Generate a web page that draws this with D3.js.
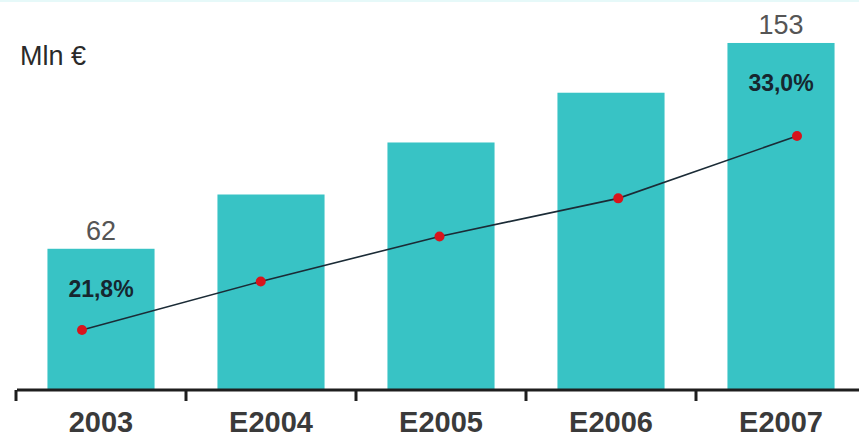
<!DOCTYPE html>
<html>
<head>
<meta charset="utf-8">
<script src="https://cdn.jsdelivr.net/npm/d3@7"></script>
<style>
  html, body { margin: 0; padding: 0; background: #ffffff; }
  svg { display: block; }
</style>
</head>
<body>
<svg id="chart" width="859" height="439"></svg>
<script>
const categories = ["2003", "E2004", "E2005", "E2006", "E2007"];
const revenue = [62, 86, 109, 131, 153];          // Mln €
const share = [21.8, 24.6, 27.2, 29.4, 33.0];     // %
const revenueLabels = ["62", "", "", "", "153"];
const shareLabels = ["21,8%", "", "", "", "33,0%"];
const unitLabel = "Mln €";

const svg = d3.select("#chart");
const W = 859, H = 439;

// faint top strip
svg.append("rect").attr("x", 0).attr("y", 0).attr("width", W).attr("height", 2).attr("fill", "#e6f9f9");

const x = d3.scaleBand().domain(categories).range([16, 866]).paddingInner(0.37).paddingOuter(0.185);
const y = d3.scaleLinear().domain([0, 172]).range([389, 0]);
const xLine = d3.scalePoint().domain(categories).range([82, 797]).padding(0);
const yLine = d3.scaleLinear().domain([21.8, 33.0]).range([330, 136]);

// bars
svg.append("g").selectAll("rect").data(categories).join("rect")
  .attr("x", d => x(d))
  .attr("y", (d, i) => y(revenue[i]))
  .attr("width", x.bandwidth())
  .attr("height", (d, i) => y(0) - y(revenue[i]))
  .attr("fill", "#38c3c5");

// axis
const axisG = svg.append("g").attr("transform", "translate(0,390)");
axisG.append("line").attr("x1", 17).attr("x2", W).attr("y1", 0).attr("y2", 0)
  .attr("stroke", "#1e1e1e").attr("stroke-width", 3);
const tickPos = categories.map(c => x(c) - x.step() * x.paddingInner() / 2);
axisG.selectAll("line.tick").data(tickPos).join("line").attr("class", "tick")
  .attr("x1", d => d).attr("x2", d => d).attr("y1", 0).attr("y2", 11)
  .attr("stroke", "#1e1e1e").attr("stroke-width", 3);
axisG.selectAll("text").data(categories).join("text")
  .attr("x", d => x(d) + x.bandwidth() / 2)
  .attr("y", 42)
  .attr("text-anchor", "middle")
  .attr("font-family", "Liberation Sans, Arial, sans-serif")
  .attr("font-weight", "bold")
  .attr("font-size", 29)
  .attr("fill", "#3a3a3a")
  .text(d => d);

// line
const line = d3.line().x((d, i) => xLine(categories[i])).y(d => yLine(d));
svg.append("path").datum(share).attr("d", line)
  .attr("fill", "none").attr("stroke", "#1b2b36").attr("stroke-width", 1.6);
svg.append("g").selectAll("circle").data(share).join("circle")
  .attr("cx", (d, i) => xLine(categories[i]))
  .attr("cy", d => yLine(d))
  .attr("r", 5)
  .attr("fill", "#d8141c");

// value labels
svg.append("g").selectAll("text").data(revenueLabels).join("text")
  .attr("x", (d, i) => x(categories[i]) + x.bandwidth() / 2)
  .attr("y", (d, i) => y(revenue[i]) - 9)
  .attr("text-anchor", "middle")
  .attr("font-family", "Liberation Sans, Arial, sans-serif")
  .attr("font-size", 27)
  .attr("fill", "#555555")
  .text(d => d);

// share labels
svg.append("g").selectAll("text").data(shareLabels).join("text")
  .attr("x", (d, i) => x(categories[i]) + x.bandwidth() / 2)
  .attr("y", (d, i) => y(revenue[i]) + 48)
  .attr("text-anchor", "middle")
  .attr("font-family", "Liberation Sans, Arial, sans-serif")
  .attr("font-weight", "bold")
  .attr("font-size", 23)
  .attr("fill", "#16262f")
  .text(d => d);

// unit label
svg.append("text").attr("x", 20).attr("y", 65)
  .attr("font-family", "Liberation Sans, Arial, sans-serif")
  .attr("font-size", 27)
  .attr("fill", "#2a2a2a")
  .text(unitLabel);
</script>
</body>
</html>
